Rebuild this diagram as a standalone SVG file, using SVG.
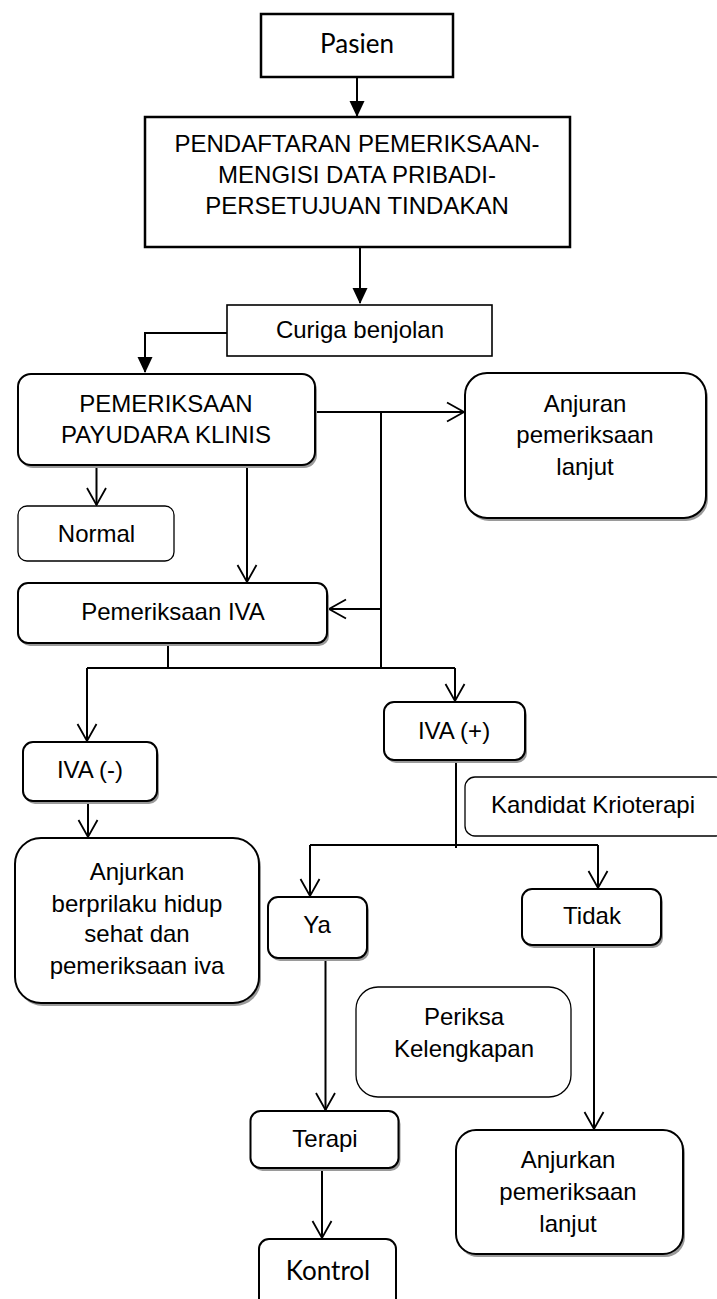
<svg xmlns="http://www.w3.org/2000/svg" width="717" height="1299" viewBox="0 0 717 1299">
<style>
.t{font-family:"Liberation Sans",Arial,sans-serif;font-size:24px;fill:#000;text-anchor:middle}
.c{font-family:Lato,"Liberation Sans",sans-serif;font-size:26px;fill:#000;text-anchor:middle}
.sq{fill:#fff;stroke:#000;stroke-width:2.5}
.sq2{fill:#fff;stroke:#000;stroke-width:1.6}
.rb{fill:#fff;stroke:#000;stroke-width:2}
.thin{fill:#fff;stroke:#000;stroke-width:1.3}
.sh{fill:#9a9a9a;stroke:none}
.ln{fill:none;stroke:#000;stroke-width:2}
.fa{marker-end:url(#fill)}
.oa{marker-end:url(#open)}
</style>
<defs>
<marker id="fill" markerUnits="userSpaceOnUse" markerWidth="16" markerHeight="16" viewBox="0 0 16 16" refX="15" refY="8" orient="auto">
<path d="M0,0.5 L16,8 L0,15.5 z" fill="#000"/>
</marker>
<marker id="open" markerUnits="userSpaceOnUse" markerWidth="20" markerHeight="22" viewBox="0 0 20 22" refX="18" refY="11" orient="auto">
<path d="M1,1.5 L18,11 L1,20.5" fill="none" stroke="#000" stroke-width="1.8"/>
</marker>
</defs>

<g id="connectors">
<path class="ln fa" d="M357,77 V116"/>
<path class="ln fa" d="M360,247 V303"/>
<path class="ln fa" d="M227,333 H145 V372"/>
<path class="ln oa" d="M315,412 H464"/>
<path class="ln" d="M381,412 V668"/>
<path class="ln oa" d="M381,609 H329"/>
<path class="ln oa" d="M96.5,465 V505"/>
<path class="ln oa" d="M247,465 V582"/>
<path class="ln" d="M168,643 V668"/>
<path class="ln" d="M87,668 H455"/>
<path class="ln oa" d="M87,668 V741"/>
<path class="ln oa" d="M455,668 V701"/>
<path class="ln oa" d="M88,801 V837"/>
<path class="ln" d="M456,760 V848"/>
<path class="ln" d="M310,845 H598"/>
<path class="ln oa" d="M310,845 V896"/>
<path class="ln oa" d="M598,845 V888"/>
<path class="ln oa" d="M325.5,958 V1110"/>
<path class="ln oa" d="M594,945 V1129"/>
<path class="ln oa" d="M322,1168 V1238"/>
</g>

<g id="pasien">
<rect class="sq" x="261" y="14" width="192" height="63"/>
<text class="c" x="357" y="53">Pasien</text>
</g>

<g id="pendaftaran">
<rect class="sq" x="145" y="117" width="425" height="130"/>
<text class="t" x="357" y="152">PENDAFTARAN PEMERIKSAAN-</text>
<text class="t" x="357" y="183">MENGISI DATA PRIBADI-</text>
<text class="t" x="357" y="214">PERSETUJUAN TINDAKAN</text>
</g>

<g id="curiga">
<rect class="sq2" x="227" y="305" width="265" height="51"/>
<text class="t" x="360" y="338">Curiga benjolan</text>
</g>

<g id="payudara">
<rect class="sh" x="20" y="377" width="297" height="91" rx="13"/>
<rect class="rb" x="18" y="374" width="297" height="91" rx="13"/>
<text class="t" x="166" y="412">PEMERIKSAAN</text>
<text class="t" x="166" y="443">PAYUDARA KLINIS</text>
</g>

<g id="anjuran">
<rect class="sh" x="467" y="376" width="241" height="145" rx="22"/>
<rect class="rb" x="465" y="373" width="241" height="145" rx="22"/>
<text class="t" x="585" y="412">Anjuran</text>
<text class="t" x="585" y="443">pemeriksaan</text>
<text class="t" x="585" y="475">lanjut</text>
</g>

<g id="normal">
<rect class="thin" x="18" y="506" width="156" height="55" rx="9"/>
<text class="t" x="96.5" y="542">Normal</text>
</g>

<g id="pemeriksaan-iva">
<rect class="sh" x="20" y="586" width="309" height="60" rx="10"/>
<rect class="rb" x="18" y="583" width="309" height="60" rx="10"/>
<text class="t" x="173" y="620">Pemeriksaan IVA</text>
</g>

<g id="iva-plus">
<rect class="sh" x="386" y="705" width="141" height="58" rx="10"/>
<rect class="rb" x="384" y="702" width="141" height="58" rx="10"/>
<text class="t" x="454" y="739">IVA (+)</text>
</g>

<g id="iva-minus">
<rect class="sh" x="25" y="745" width="134" height="59" rx="10"/>
<rect class="rb" x="23" y="742" width="134" height="59" rx="10"/>
<text class="t" x="90" y="778">IVA (-)</text>
</g>

<g id="anjurkan-sehat">
<rect class="sh" x="17" y="841" width="244" height="165" rx="26"/>
<rect class="rb" x="15" y="838" width="244" height="165" rx="26"/>
<text class="t" x="137" y="880">Anjurkan</text>
<text class="t" x="137" y="912">berprilaku hidup</text>
<text class="t" x="137" y="942">sehat dan</text>
<text class="t" x="137" y="974">pemeriksaan iva</text>
</g>

<g id="kandidat">
<rect class="thin" x="465" y="777" width="260" height="59" rx="10"/>
<text class="t" x="593" y="813">Kandidat Krioterapi</text>
</g>

<g id="ya">
<rect class="sh" x="270" y="900" width="99" height="61" rx="10"/>
<rect class="rb" x="268" y="897" width="99" height="61" rx="10"/>
<text class="t" x="317" y="933">Ya</text>
</g>

<g id="tidak">
<rect class="sh" x="524" y="892" width="139" height="56" rx="10"/>
<rect class="rb" x="522" y="889" width="139" height="56" rx="10"/>
<text class="t" x="592" y="924">Tidak</text>
</g>

<g id="periksa">
<rect class="thin" x="356" y="987" width="215" height="110" rx="22"/>
<text class="t" x="464" y="1025">Periksa</text>
<text class="t" x="464" y="1057">Kelengkapan</text>
</g>

<g id="terapi">
<rect class="sh" x="252.5" y="1114" width="148" height="57" rx="10"/>
<rect class="rb" x="250.5" y="1111" width="148" height="57" rx="10"/>
<text class="t" x="325" y="1147">Terapi</text>
</g>

<g id="anjurkan-lanjut">
<rect class="sh" x="458" y="1133" width="227" height="124" rx="20"/>
<rect class="rb" x="456" y="1130" width="227" height="124" rx="20"/>
<text class="t" x="568" y="1168">Anjurkan</text>
<text class="t" x="568" y="1200">pemeriksaan</text>
<text class="t" x="568" y="1232">lanjut</text>
</g>

<g id="kontrol">
<rect class="rb" x="259" y="1239" width="137" height="70" rx="10"/>
<text class="c" x="328" y="1280">Kontrol</text>
</g>
</svg>
